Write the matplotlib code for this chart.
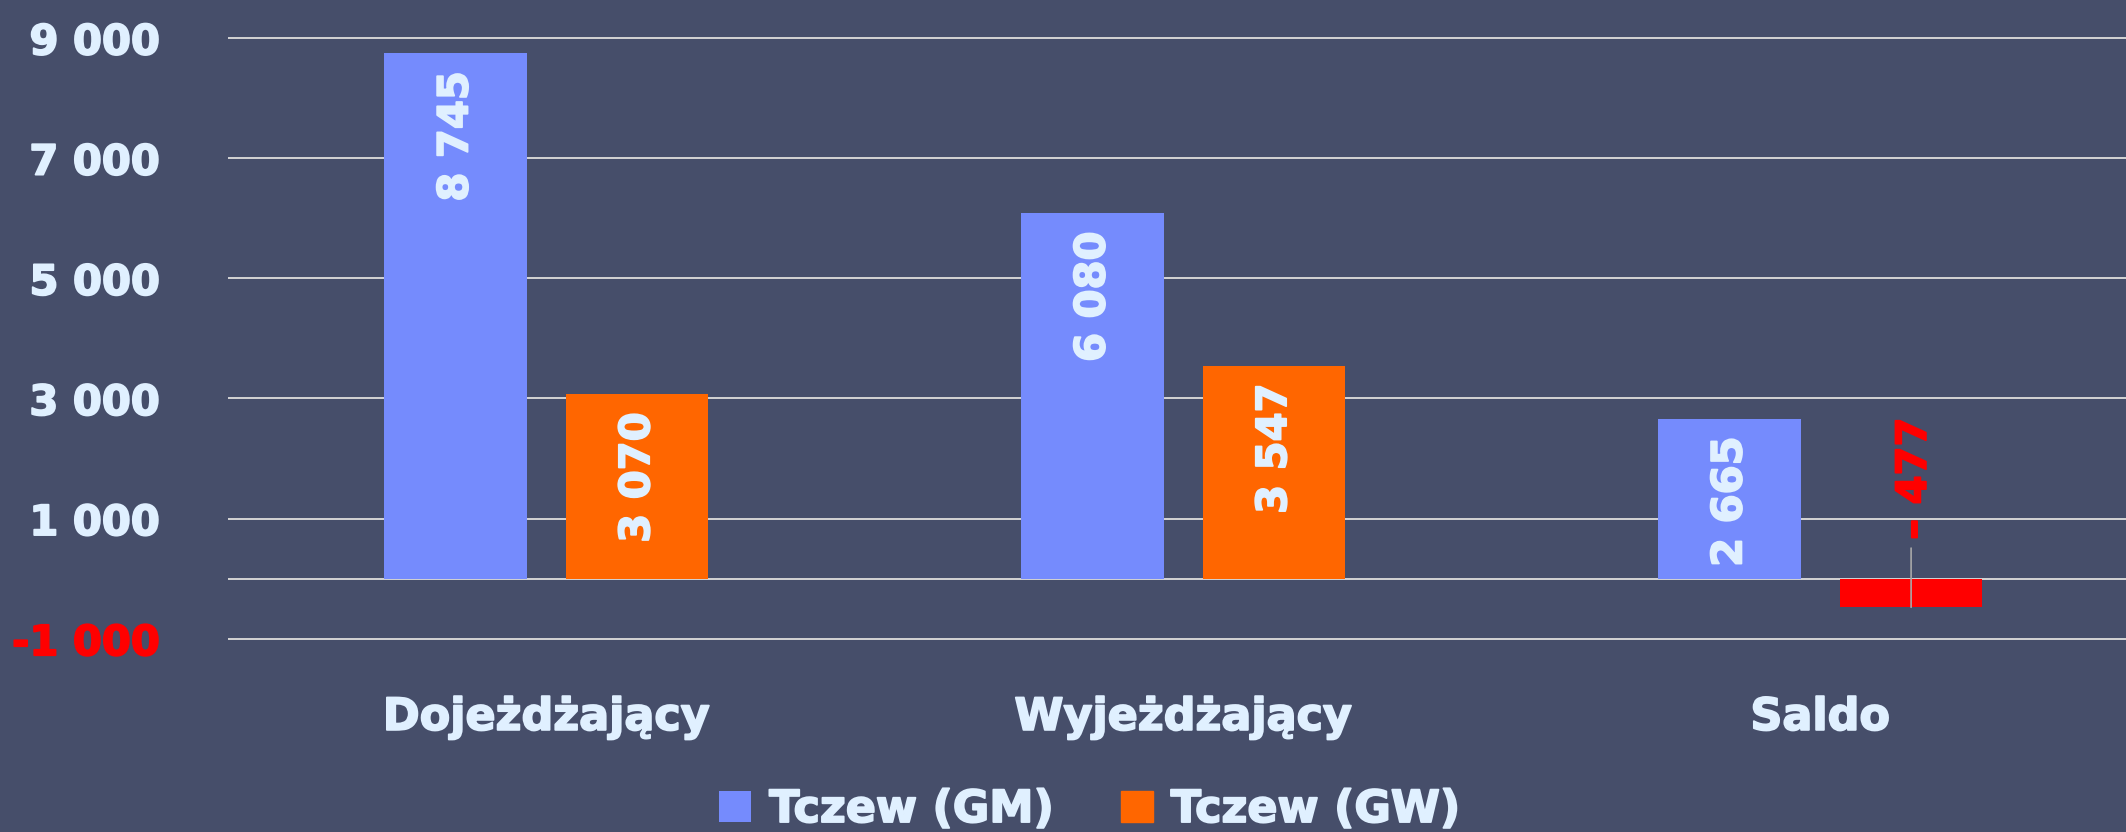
import matplotlib
matplotlib.use("Agg")
import matplotlib.pyplot as plt
import matplotlib.patheffects as pe
import numpy as np
from matplotlib.transforms import offset_copy

# data
categories = ["Dojeżdżający", "Wyjeżdżający", "Saldo"]
series_names = ["Tczew (GM)", "Tczew (GW)"]
gm_values = [8745, 6080, 2665]
gw_values = [3070, 3547, -477]
y_ticks = [-1000, 1000, 3000, 5000, 7000, 9000]

BG = "#464e6a"
BLUE = "#758bfd"
ORANGE = "#ff6600"
RED = "#ff0000"
TEXT = "#e0f0ff"
GRID = "#d4d4d4"

plt.rcParams["font.family"] = ["DejaVu Sans"]
plt.rcParams["font.weight"] = "bold"


def fmt(v):
    if v < 0:
        return "– " + f"{abs(v):,}".replace(",", " ")
    return f"{v:,}".replace(",", " ")


def heavy(color):
    # thicken the glyphs a bit, the original font is heavier than DejaVu Bold
    return [pe.withStroke(linewidth=1.3, foreground=color)]


fig = plt.figure(figsize=(21.26, 8.32), dpi=100, facecolor=BG)
ax = fig.add_axes([0.1072, 0.2287, 1 - 0.1072, 1 - 0.2287])
ax.set_facecolor(BG)

x = np.arange(len(categories))
width = 0.2234
offset = 0.1426

gw_colors = [ORANGE if v >= 0 else RED for v in gw_values]
bars_gm = ax.bar(x - offset, gm_values, width, color=BLUE, zorder=3, label=series_names[0])
bars_gw = ax.bar(x + offset, gw_values, width, color=gw_colors, zorder=3, label=series_names[1])

ax.set_xlim(-0.5, 2.48)
ax.set_ylim(-1050, 9632)

ax.set_yticks(y_ticks)
ax.set_yticklabels([fmt(t).replace("– ", "-") for t in y_ticks])
for lbl, t in zip(ax.get_yticklabels(), y_ticks):
    c = RED if t < 0 else TEXT
    lbl.set_color(c)
    lbl.set_path_effects(heavy(c))
ax.grid(axis="y", color=GRID, linewidth=1.4, zorder=0)
ax.axhline(0, color=GRID, linewidth=1.4, zorder=1)

ax.set_xticks(x)
ax.set_xticklabels(categories)
ax.tick_params(axis="x", length=0, pad=39, labelsize=32, labelcolor=TEXT)
ax.tick_params(axis="y", length=0, pad=49, labelsize=30)
for lbl in ax.get_xticklabels():
    lbl.set_path_effects(heavy(TEXT))
for s in ax.spines.values():
    s.set_visible(False)

# value labels inside bars, near the top
for bars, vals in [(bars_gm, gm_values), (bars_gw, gw_values)]:
    for b, v in zip(bars, vals):
        cx = b.get_x() + b.get_width() / 2
        if v >= 0:
            ax.annotate(fmt(v), xy=(cx, v), xytext=(0, -13), textcoords="offset points",
                        rotation=90, ha="center", va="top", fontsize=30, color=TEXT,
                        zorder=5, path_effects=heavy(TEXT))
        else:
            ax.annotate(fmt(v), xy=(cx, 0), xytext=(2, 28),
                        textcoords="offset points", rotation=90, ha="center", va="bottom",
                        fontsize=30, color=RED, zorder=5, path_effects=heavy(RED))
            # leader line from label down to bar end
            ax.annotate("", xy=(cx, v), xytext=(cx, 0),
                        textcoords=offset_copy(ax.transData, fig=fig, y=22, units="points"),
                        arrowprops=dict(arrowstyle="-", color="#a8a8a8", lw=1.2,
                                        shrinkA=0, shrinkB=0), zorder=6)

leg = fig.legend(handles=[bars_gm, bars_gw], labels=series_names, loc="center",
                 bbox_to_anchor=(0.5127, 0.027), ncol=2, frameon=False, fontsize=32,
                 handlelength=0.72, handleheight=0.72, handletextpad=0.4,
                 columnspacing=1.5, labelcolor=TEXT)
leg.legend_handles[1].set_color(ORANGE)
for t in leg.get_texts():
    t.set_path_effects(heavy(TEXT))

fig.savefig("out.png", dpi=100, facecolor=BG)
